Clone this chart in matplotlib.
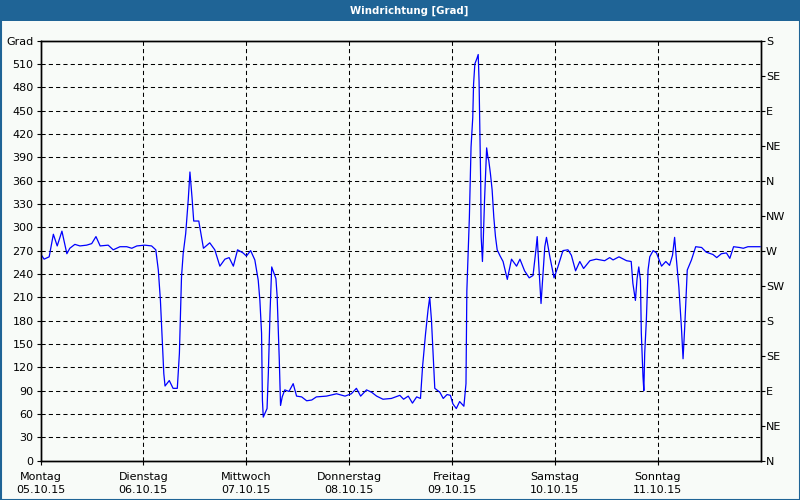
import matplotlib
matplotlib.use("Agg")
import matplotlib.pyplot as plt
from matplotlib.patches import Rectangle

# ---- data ----
hours = [0, 0.84, 2.02, 3.0, 3.9, 5.0, 6.15, 6.84, 8.02, 9.2, 10.77, 11.95, 12.94, 13.92,
         15.79, 16.97, 18.54, 20.12, 21.3, 22.48, 24.34, 25.92, 26.9, 27.49, 27.98, 28.77,
         29.06, 30.05, 30.93, 31.92, 32.41, 32.9, 33.29, 33.88, 34.47, 34.87, 35.36, 35.75,
         36.93, 38.02, 39.49, 40.67, 41.85, 43.03, 44.01, 45.0, 45.98, 47.26, 48.05, 49.03,
         50.01, 50.8, 51.19, 51.58, 51.78, 51.98, 52.86, 53.16, 53.55, 53.95, 54.34, 54.93,
         55.22, 55.72, 56.01, 56.4, 57.0, 57.98, 58.96, 59.75, 60.93, 62.11, 63.29, 64.37,
         66.73, 69.09, 71.06, 72.53, 73.71, 74.7, 76.07, 77.25, 78.43, 79.91, 81.87, 83.84,
         84.72, 85.81, 86.79, 87.77, 88.66, 89.15, 89.84, 90.43, 90.82, 91.22, 91.61, 92.0,
         93.18, 93.97, 94.86, 95.64, 96.23, 97.02, 97.8, 98.79, 99.28, 99.48, 100.07, 100.46,
         100.86, 101.05, 101.35, 101.84, 102.13, 102.33, 102.53, 102.72, 102.82, 103.12,
         103.31, 103.61, 104.1, 104.39, 104.59, 104.98, 105.38, 105.77, 106.16, 106.56,
         107.25, 107.93, 108.92, 109.9, 111.08, 111.87, 112.95, 114.03, 114.92, 115.6, 115.9,
         116.29, 116.79, 117.67, 118.06, 118.85, 119.83, 120.72, 121.9, 123.08, 123.87,
         124.85, 125.84, 126.72, 128.19, 129.67, 131.63, 132.81, 133.6, 134.98, 136.75,
         137.83, 138.22, 138.81, 139.2, 139.6, 139.99, 140.19, 140.58, 140.78, 140.98,
         141.37, 141.76, 142.16, 142.95, 143.73, 144.91, 145.9, 146.78, 147.47, 147.96,
         148.36, 148.95, 149.54, 149.93, 150.32, 150.91, 151.89, 152.88, 154.26, 155.33,
         156.9, 157.79, 158.87, 160.05, 160.84, 161.72, 163.1, 163.99, 165.07, 166.64, 167.9]
direction = [266, 259, 262, 291, 276, 295, 266, 273, 278, 276, 277, 279, 288, 276,
             277, 271, 275, 275, 273, 276, 277, 276, 271, 245, 206, 112,
             96, 103, 93, 93, 138, 236, 266, 292, 335, 371, 338, 308,
             308, 273, 280, 271, 250, 259, 261, 250, 271, 267, 263, 270,
             258, 232, 206, 164, 78, 56, 67, 112, 189, 249, 243, 234,
             211, 129, 71, 82, 91, 89, 99, 83, 82, 77, 78, 82,
             83, 86, 83, 86, 93, 83, 91, 88, 83, 79, 80, 84,
             79, 83, 74, 82, 80, 121, 163, 194, 210, 181, 138, 93,
             88, 80, 85, 84, 73, 67, 76, 70, 99, 218, 313, 403,
             441, 484, 510, 517, 522, 488, 420, 355, 288, 256,
             283, 335, 402, 390, 386, 369, 348, 313, 288, 271,
             263, 256, 233, 259, 250, 259, 244, 235, 238, 271, 288,
             249, 202, 275, 287, 262, 235, 249, 270, 271, 264,
             244, 256, 247, 257, 259, 257, 261, 258, 262, 257,
             256, 228, 206, 234, 249, 232, 164, 108, 90, 138,
             181, 245, 262, 270, 267, 250, 256, 251, 264, 287,
             260, 223, 172, 131, 172, 245, 258, 275, 274, 268,
             265, 261, 266, 267, 260, 275, 274, 273, 275, 275, 275]

day_names = ["Montag", "Dienstag", "Mittwoch", "Donnerstag", "Freitag", "Samstag", "Sonntag"]
day_dates = ["05.10.15", "06.10.15", "07.10.15", "08.10.15", "09.10.15", "10.10.15", "11.10.15"]
left_ticks = list(range(0, 541, 30))
left_labels = [str(v) for v in range(0, 511, 30)] + ["Grad"]
right_ticks = list(range(0, 541, 45))
right_labels = ["N", "NE", "E", "SE", "S", "SW", "W", "NW", "N", "NE", "E", "SE", "S"]
title = "Windrichtung [Grad]"

# ---- figure ----
plt.rcParams['font.family'] = ['DejaVu Sans']
bg = "#F8FBF8"
blue = "#1F6496"
fig = plt.figure(figsize=(8, 5), dpi=100, facecolor=bg)

# title bar and border
fig.patches.append(Rectangle((0, 1 - 21 / 500), 1, 21 / 500, transform=fig.transFigure,
                             facecolor=blue, edgecolor="none", zorder=0))
fig.patches.append(Rectangle((0.5 / 800, 0.5 / 500), 799 / 800, 499 / 500, transform=fig.transFigure,
                             facecolor="none", edgecolor=blue, linewidth=1.5, zorder=1))
fig.text(409 / 800, 1 - 10.5 / 500, title, color="white", fontsize=7.3, fontweight="bold",
         ha="center", va="center")

ax = fig.add_axes([40.5 / 800, (500 - 460.7) / 500, 720 / 800, 420.2 / 500])
ax.set_facecolor(bg)
ax.plot(hours, direction, color="#0000FF", lw=0.9, zorder=3)
ax.set_xlim(0, 168)
ax.set_ylim(0, 540)

ax.set_yticks(left_ticks)
ax.set_yticklabels(left_labels)
xt = [24 * i for i in range(len(day_names))]
ax.set_xticks(xt)
ax.set_xticklabels([f"{n}\n{d}" for n, d in zip(day_names, day_dates)], linespacing=1.35)
ax.tick_params(axis="both", labelsize=8, length=3, width=0.8, colors="black", pad=2)
ax.tick_params(axis="x", pad=5)

for v in left_ticks[1:-1]:
    ax.axhline(v, color="black", lw=0.75, ls=(0, (4, 3)), zorder=1)
for v in xt[1:]:
    ax.axvline(v, color="black", lw=0.75, ls=(0, (4, 3)), zorder=1)
for s in ax.spines.values():
    s.set_linewidth(1.0)

ax2 = ax.twinx()
ax2.set_ylim(0, 540)
ax2.set_yticks(right_ticks)
ax2.set_yticklabels(right_labels)
ax2.tick_params(axis="y", labelsize=8, length=3, width=0.8, pad=1)
for s in ax2.spines.values():
    s.set_linewidth(1.0)

fig.savefig("out.png", dpi=100, facecolor=bg)
